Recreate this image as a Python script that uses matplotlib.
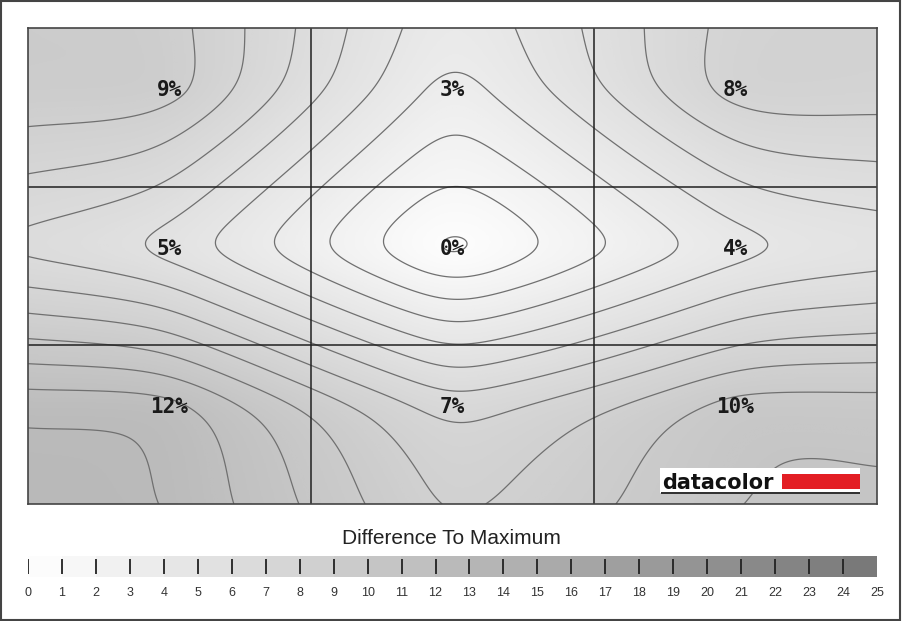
import numpy as np
import matplotlib
matplotlib.use("Agg")
import matplotlib.pyplot as plt
from matplotlib.colors import LinearSegmentedColormap, Normalize
from matplotlib.patches import Rectangle

# === data: luminance difference to maximum, 3x3 grid (top row first) ===
cell_values = [
    [9, 3, 8],
    [5, 0, 4],
    [12, 7, 10],
]
scale_ticks = list(range(0, 26))
scale_title = "Difference To Maximum"

W, H = 902, 621

def fx(x):
    return x / W

def fy(y):
    return 1 - y / H

def weights_1d(pos, pts, k=0.5, u0=0.27):
    """linear between the measuring spots, small rounded bump beyond the outer ones"""
    L = np.zeros((len(pos), len(pts)))
    for i, p in enumerate(pos):
        if p < pts[0]:
            u = pts[0] - p
            g = k * u * np.exp(-u / u0)
            L[i, 0], L[i, 1] = 1 + g, -g
        elif p > pts[-1]:
            u = p - pts[-1]
            g = k * u * np.exp(-u / u0)
            L[i, -1], L[i, -2] = 1 + g, -g
        else:
            j = min(int(np.searchsorted(pts, p, side="right")) - 1, len(pts) - 2)
            s = (p - pts[j]) / (pts[j + 1] - pts[j])
            L[i, j], L[i, j + 1] = 1 - s, s
    return L

def smooth(a, sig_rows, sig_cols):
    for axis, sig in ((0, sig_rows), (1, sig_cols)):
        r = int(3 * sig)
        kern = np.exp(-0.5 * (np.arange(-r, r + 1) / sig) ** 2)
        kern /= kern.sum()
        pad = [(0, 0), (0, 0)]
        pad[axis] = (r, r)
        b = np.pad(a, pad, mode="reflect")
        a = np.apply_along_axis(lambda v: np.convolve(v, kern, mode="valid"), axis, b)
    return a

def rbf_field(px, py, values, X, Y):
    """linear radial basis interpolation (kernel r) plus a plane"""
    P = np.array([(x, y) for y in py for x in px])
    z = np.asarray(values, dtype=float).ravel()
    n = len(P)
    d = np.hypot(P[:, None, 0] - P[None, :, 0], P[:, None, 1] - P[None, :, 1])
    A = np.zeros((n + 3, n + 3))
    A[:n, :n] = d
    A[:n, n] = 1
    A[:n, n + 1] = P[:, 0]
    A[:n, n + 2] = P[:, 1]
    A[n:, :n] = A[:n, n:].T
    w = np.linalg.solve(A, np.concatenate([z, np.zeros(3)]))
    dd = np.hypot(X[..., None] - P[:, 0], Y[..., None] - P[:, 1])
    return dd @ w[:n] + w[n] + w[n + 1] * X + w[n + 2] * Y

# map in cell units: 3 x 3 cells, measuring spots a bit above cell middle
pt_x = [0.5, 1.5, 2.5]
pt_y = [0.39, 1.39, 2.39]
xs = np.linspace(0, 3, 600)
ys = np.linspace(0, 3, 450)
X, Y = np.meshgrid(xs, ys)
vals = np.array(cell_values, dtype=float)

Lx = weights_1d(xs, pt_x)
Ly = weights_1d(ys, pt_y)
tensor = smooth(Ly @ vals @ Lx.T, 0.08 * 150, 0.08 * 200)
radial = rbf_field(pt_x, pt_y, vals, X, Y)
field = 0.7 * tensor + 0.3 * radial

cmap = LinearSegmentedColormap.from_list("diff", ["#ffffff", "#777777"])
norm = Normalize(0, 25)

fig = plt.figure(figsize=(W / 100, H / 100), dpi=100)

# main map
ax = fig.add_axes([fx(28), fy(504), fx(877) - fx(28), fy(28) - fy(504)])
ax.imshow(field, cmap=cmap, norm=norm, extent=[0, 3, 3, 0], aspect="auto",
          interpolation="bilinear")
ax.contour(xs, ys, field, levels=np.arange(0.5, 25, 1), colors="#707070",
           linewidths=0.9)
for k in (1, 2):
    ax.axvline(k, color="#202020", lw=1.1)
    ax.axhline(k, color="#202020", lw=1.1)
for r in range(3):
    for c in range(3):
        ax.text(c + 0.5, r + 0.39, f"{cell_values[r][c]}%", ha="center",
                va="center", fontsize=15, fontweight="bold",
                family="DejaVu Sans Mono", color="#1a1a1a")
ax.set_xlim(0, 3)
ax.set_ylim(3, 0)
ax.set_xticks([])
ax.set_yticks([])
for sp in ax.spines.values():
    sp.set_color("#444444")
    sp.set_linewidth(1.2)

# datacolor logo
fig.patches.append(Rectangle((fx(660), fy(493)), fx(860) - fx(660), fy(468) - fy(493),
                             transform=fig.transFigure, facecolor="white",
                             edgecolor="none", zorder=5))
fig.patches.append(Rectangle((fx(782), fy(489)), fx(860) - fx(782), fy(474) - fy(489),
                             transform=fig.transFigure, facecolor="#e31e24",
                             edgecolor="none", zorder=6))
fig.patches.append(Rectangle((fx(661), fy(494)), fx(860) - fx(661), fy(491.5) - fy(494),
                             transform=fig.transFigure, facecolor="#333333",
                             edgecolor="none", zorder=6))
fig.text(fx(662), fy(489), "datacolor", fontsize=15, fontweight="bold",
         family="DejaVu Sans", color="#111111", ha="left", va="baseline", zorder=7)

# scale bar
fig.text(fx(451), fy(539), scale_title, ha="center", va="center", fontsize=15,
         family="Liberation Sans", color="#222222")
cax = fig.add_axes([fx(28), fy(577), fx(877) - fx(28), fy(556) - fy(577)])
steps = np.arange(scale_ticks[0], scale_ticks[-1]) + 0.5
cax.imshow(steps[np.newaxis, :], cmap=cmap, norm=norm, aspect="auto",
           extent=[scale_ticks[0], scale_ticks[-1], 0, 1], interpolation="nearest")
cax.vlines(scale_ticks[:-1], 0.12, 0.88, color="#222222", lw=1.3)
cax.set_xlim(scale_ticks[0], scale_ticks[-1])
cax.set_ylim(0, 1)
cax.set_xticks([])
cax.set_yticks([])
for sp in cax.spines.values():
    sp.set_visible(False)
for t in scale_ticks:
    fig.text(fx(28 + t * (877 - 28) / 25), fy(593), str(t), ha="center", va="center",
             fontsize=9, family="Liberation Sans", color="#333333")

# outer frame
fig.patches.append(Rectangle((0.0008, 0.0012), 0.9975, 0.9965, transform=fig.transFigure,
                             fill=False, edgecolor="#444444", lw=1.5))

fig.savefig("out.png", dpi=100)
